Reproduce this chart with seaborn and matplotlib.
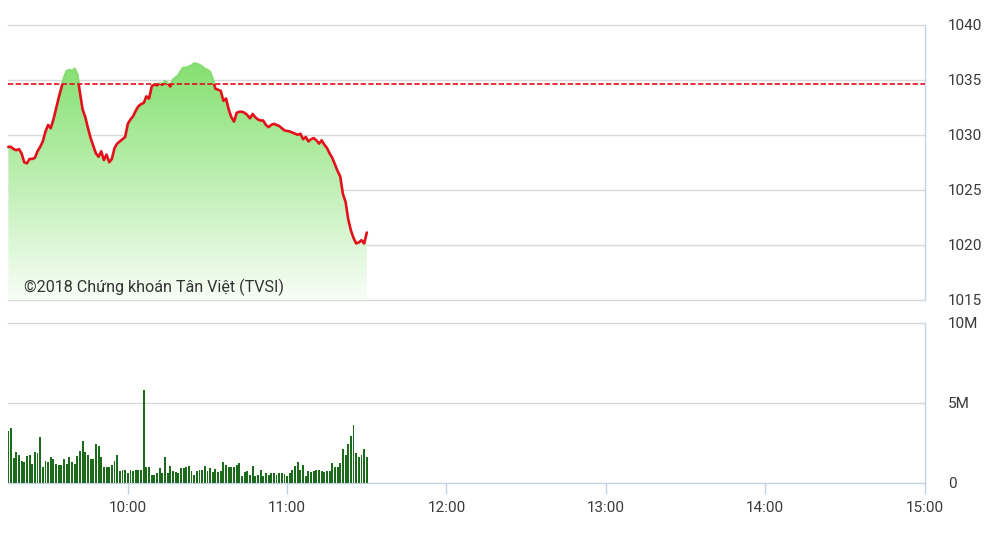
import numpy as np
import pandas as pd
import matplotlib
matplotlib.use("Agg")
import matplotlib.pyplot as plt
from matplotlib import font_manager
from matplotlib.patches import Rectangle
import seaborn as sns

# ---------------- data ----------------
start_minute = 15  # first point: 9:15 (minutes after 9:00)
price = [
    1028.9, 1028.9, 1028.7, 1028.6, 1028.7, 1028.3, 1027.5, 1027.4, 1027.8, 1027.8,
    1027.9, 1028.5, 1028.9, 1029.4, 1030.3, 1030.9, 1030.6, 1031.4, 1032.4, 1033.4,
    1034.3, 1035.2, 1035.8, 1035.9, 1035.8, 1036.0, 1035.5, 1033.8, 1032.3, 1031.6,
    1030.6, 1029.7, 1029.0, 1028.3, 1028.0, 1028.5, 1027.7, 1028.2, 1027.5, 1027.8,
    1028.8, 1029.2, 1029.4, 1029.6, 1029.8, 1031.0, 1031.4, 1031.7, 1032.2, 1032.6,
    1032.8, 1032.9, 1033.5, 1033.3, 1034.4, 1034.6, 1034.5, 1034.7, 1034.55, 1034.9,
    1034.7, 1034.4, 1035.0, 1035.2, 1035.4, 1035.8, 1036.1, 1036.1, 1036.2, 1036.3,
    1036.5, 1036.45, 1036.35, 1036.2, 1036.0, 1035.9, 1035.7, 1035.0, 1034.2, 1034.1,
    1034.0, 1033.1, 1033.3, 1032.3, 1031.6, 1031.2, 1032.0, 1032.1, 1032.1, 1032.0,
    1031.8, 1031.5, 1031.9, 1031.6, 1031.4, 1031.3, 1031.3, 1030.9, 1030.7, 1030.9,
    1031.0, 1030.9, 1030.8, 1030.6, 1030.4, 1030.35, 1030.3, 1030.2, 1030.1, 1030.0,
    1030.1, 1029.6, 1029.8, 1029.4, 1029.6, 1029.7, 1029.5, 1029.2, 1029.5, 1029.1,
    1028.8, 1028.3, 1027.9, 1027.3, 1026.7, 1026.2, 1024.6, 1023.9, 1022.3, 1021.3,
    1020.6, 1020.1, 1020.2, 1020.4, 1020.1, 1021.1,
]
volume_m = [
    3.27, 3.44, 1.56, 1.94, 1.77, 1.35, 1.31, 1.71, 1.77, 1.19,
    1.94, 1.88, 2.85, 1.00, 1.40, 1.31, 1.60, 1.52, 1.19, 1.15,
    1.15, 1.52, 1.21, 1.60, 1.31, 1.21, 1.71, 1.98, 2.65, 1.94,
    1.77, 1.52, 1.52, 2.44, 2.29, 1.60, 0.98, 1.02, 1.02, 1.10,
    1.40, 1.77, 0.77, 0.81, 0.81, 0.65, 0.81,
    0.77, 0.81, 0.81, 0.81, 5.83, 0.98, 0.98, 0.48, 0.52, 0.63,
    0.94, 0.63, 1.60, 0.63, 1.04, 0.77, 0.69, 0.63, 0.94, 0.94,
    0.98, 1.04, 0.77, 0.48, 0.73, 0.83, 0.83, 1.04, 0.77, 0.94,
    0.69, 0.90, 0.69, 0.73, 1.31, 1.15, 0.98, 0.98, 0.98, 1.15,
    1.23, 0.42, 0.69, 0.77,
    0.48, 1.04, 0.42, 0.48, 0.83, 0.42, 0.63, 0.48, 0.63, 0.63,
    0.48, 0.63, 0.63, 0.56, 0.42, 0.63, 0.83, 1.04, 1.31, 0.83,
    1.15, 0.42, 0.77, 0.69, 0.77, 0.83, 0.83, 0.77, 0.69, 0.77,
    0.77, 1.23, 0.98, 1.00, 1.23, 2.15, 1.77, 2.44, 2.92, 3.60,
    1.88, 1.60, 1.77, 2.15, 1.60, 1.35,
]
ref_price = 1034.67
price_ticks = [1015, 1020, 1025, 1030, 1035, 1040]
vol_ticks_m = [0, 5, 10]
vol_labels = ["0", "5M", "10M"]
time_ticks = [60, 120, 180, 240, 300, 360]
time_labels = ["10:00", "11:00", "12:00", "13:00", "14:00", "15:00"]
watermark = "©2018 Chứng khoán Tân Việt (TVSI)"

# ---------------- style ----------------
sns.set_theme(style="white")
names = {f.name for f in font_manager.fontManager.ttflist}
narrow = "Liberation Sans Narrow" if "Liberation Sans Narrow" in names else "Roboto"
plt.rcParams["font.family"] = [narrow, "DejaVu Sans"]

n = min(len(price), len(volume_m))
df = pd.DataFrame({
    "t": start_minute + np.arange(n),
    "price": price[:n],
    "vol": np.array(volume_m[:n]) * 1e6,
})

W, H = 994, 558
fig = plt.figure(figsize=(W / 100, H / 100), dpi=100)
x0, x1 = 8.3, 924.5
ax1 = fig.add_axes([x0 / W, 1 - 299.5 / H, (x1 - x0) / W, (299.5 - 25) / H])
ax2 = fig.add_axes([x0 / W, 1 - 483 / H, (x1 - x0) / W, (483 - 323) / H])

grid_c = "#d9d9d9"
axis_c = "#c3d2e2"
text_c = "#3a3a3a"
fs = 11

# ---- price panel ----
poly = ax1.fill_between(df["t"], df["price"], price_ticks[0], color="none", lw=0)
grad = np.linspace(0, 1, 256).reshape(-1, 1, 1)
top = np.array([0.52, 0.88, 0.44]).reshape(1, 1, 3)
bot = np.array([0.97, 0.995, 0.965]).reshape(1, 1, 3)
img = top + (bot - top) * grad
im = ax1.imshow(img, extent=[df["t"].min(), df["t"].max(), price_ticks[0], df["price"].max()],
                origin="upper", aspect="auto", zorder=1, interpolation="bilinear")
im.set_clip_path(poly.get_paths()[0], ax1.transData)

sns.lineplot(data=df, x="t", y="price", ax=ax1, color="#e3101a", lw=1.9, zorder=3)
red_line = ax1.lines[-1]
red_line.set_clip_path(Rectangle((0, 900), 1000, ref_price - 900, transform=ax1.transData))
sns.lineplot(data=df, x="t", y="price", ax=ax1, color="#86dd72", lw=1.9, zorder=3)
green_line = ax1.lines[-1]
green_line.set_clip_path(Rectangle((0, ref_price), 1000, 200, transform=ax1.transData))

ax1.axhline(ref_price, color="#e3101a", lw=1.2, ls=(0, (3.2, 1.4)), zorder=4)

ax1.set_xlim(15, 360)
ax1.set_ylim(price_ticks[0], price_ticks[-1])
ax1.set_yticks(price_ticks)
ax1.set_yticklabels([str(v) for v in price_ticks])
ax1.yaxis.tick_right()
ax1.tick_params(axis="y", length=0, pad=17, labelsize=fs, labelcolor=text_c)
ax1.set_xticks([])
ax1.grid(False)
for v in price_ticks[1:-1]:
    ax1.axhline(v, color=grid_c, lw=1, zorder=0.5)
ax1.spines["left"].set_visible(False)
ax1.spines["top"].set_color(grid_c)
ax1.spines["bottom"].set_color(grid_c)
ax1.spines["right"].set_color(axis_c)
for s in ["top", "bottom", "right"]:
    ax1.spines[s].set_linewidth(1)
ax1.set_xlabel("")
ax1.set_ylabel("")
ax1.set_facecolor("none")

fig.text(24 / W, 1 - 287 / H, watermark, fontsize=11.6, color="#333333", va="center", ha="left",
         zorder=10)

# ---- volume panel ----
ax2.bar(df["t"], df["vol"], width=0.72, color="#1c6b1c", lw=0, antialiased=False, zorder=3)
ax2.set_xlim(15, 360)
ax2.set_ylim(0, vol_ticks_m[-1] * 1e6)
ax2.set_yticks([v * 1e6 for v in vol_ticks_m])
ax2.set_yticklabels(vol_labels)
ax2.yaxis.tick_right()
ax2.tick_params(axis="y", length=0, pad=17, labelsize=fs, labelcolor=text_c)
ax2.set_xticks(time_ticks)
ax2.set_xticklabels(time_labels)
ax2.tick_params(axis="x", length=8, width=1, color=axis_c, direction="out",
                labelsize=fs, labelcolor=text_c, pad=5, bottom=True)
ax2.grid(False)
ax2.axhline(5e6, color=grid_c, lw=1, zorder=0.5)
ax2.spines["left"].set_visible(False)
ax2.spines["top"].set_color(grid_c)
ax2.spines["bottom"].set_color(axis_c)
ax2.spines["right"].set_color(axis_c)
for s in ["top", "bottom", "right"]:
    ax2.spines[s].set_linewidth(1)
ax2.set_xlabel("")
ax2.set_ylabel("")

fig.savefig("out.png", dpi=100, facecolor="white")
